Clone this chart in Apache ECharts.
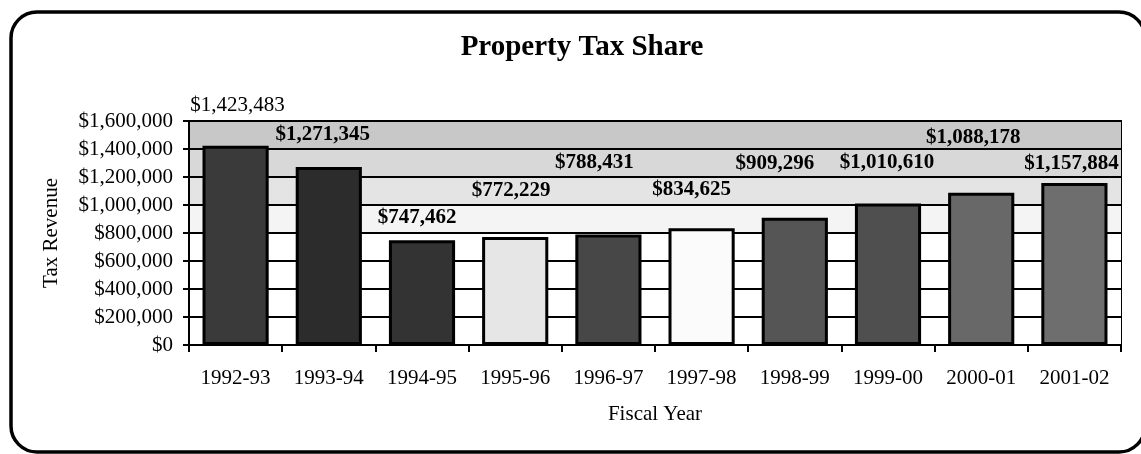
<!DOCTYPE html>
<html>
<head>
<meta charset="utf-8">
<script src="https://cdn.jsdelivr.net/npm/echarts@6/dist/echarts.min.js"></script>
<style>
	html, body { margin: 0; padding: 0; background: #fff; }
	#chart { width: 1141px; height: 454px; }
</style>
</head>
<body>
<div id="chart"></div>
<script>
// data
const fiscalYears = ['1992-93', '1993-94', '1994-95', '1995-96', '1996-97', '1997-98', '1998-99', '1999-00', '2000-01', '2001-02'];
const taxRevenue = [1423483, 1271345, 747462, 772229, 788431, 834625, 909296, 1010610, 1088178, 1157884];
const yTicks = [0, 200000, 400000, 600000, 800000, 1000000, 1200000, 1400000, 1600000];

// look of each bar (grey fills as printed)
const barFills = ['#3a3a3a', '#2c2c2c', '#333333', '#e6e6e6', '#474747', '#fbfbfb', '#555555', '#4f4f4f', '#686868', '#6e6e6e'];
// value labels were dragged around by hand in the original
const labelNudge = [[2, -25], [-6, -17], [-5, -7], [-4, -31], [-14, -57], [-10, -23], [-20, -39], [-1, -25], [-8, -40], [-3, -4]];

const serif = '"Liberation Serif", "DejaVu Serif", serif';

function money(v) {
	return '$' + Math.round(v).toLocaleString('en-US');
}

const chart = echarts.init(document.getElementById('chart'));
const option = {
	animation: false,
	backgroundColor: '#fff',
	graphic: [{
		type: 'rect',
		shape: { x: 11, y: 12, width: 1134, height: 440, r: 26 },
		style: { fill: 'none', stroke: '#000', lineWidth: 3.5 },
		z: 100
	}],
	title: {
		text: 'Property Tax Share',
		left: 577,
		top: 28,
		textAlign: 'center',
		textStyle: {
			fontFamily: serif,
			fontWeight: 'bold',
			fontSize: 29,
			color: '#000'
		}
	},
	grid: {
		left: 189,
		right: 20,
		top: 121,
		bottom: 109,
		show: true,
		borderColor: '#000',
		borderWidth: 2,
		backgroundColor: 'transparent'
	},
	xAxis: {
		type: 'category',
		data: fiscalYears,
		name: 'Fiscal Year',
		nameLocation: 'middle',
		nameGap: 59,
		nameTextStyle: { fontFamily: serif, fontSize: 21, color: '#000' },
		axisLine: { lineStyle: { color: '#000', width: 2 } },
		axisTick: { show: true, length: 7, lineStyle: { color: '#000', width: 2 } },
		axisLabel: { fontFamily: serif, fontSize: 21, color: '#000', margin: 23 },
		splitLine: { show: false }
	},
	yAxis: {
		type: 'value',
		min: yTicks[0],
		max: yTicks[yTicks.length - 1],
		interval: yTicks[1] - yTicks[0],
		name: 'Tax Revenue',
		nameLocation: 'middle',
		nameGap: 127,
		nameTextStyle: { fontFamily: serif, fontSize: 21, color: '#000' },
		axisLine: { show: true, lineStyle: { color: '#000', width: 2 } },
		axisTick: { show: true, length: 6, lineStyle: { color: '#000', width: 2 } },
		axisLabel: {
			fontFamily: serif,
			fontSize: 21,
			color: '#000',
			margin: 16,
			formatter: money
		},
		splitLine: { show: true, lineStyle: { color: '#000', width: 2 } },
		splitArea: {
			show: true,
			areaStyle: {
				color: ['#ffffff', '#ffffff', '#ffffff', '#ffffff', '#f4f4f4', '#e4e4e4', '#d8d8d8', '#c8c8c8']
			}
		}
	},
	series: [{
		type: 'bar',
		barCategoryGap: '29%',
		data: taxRevenue.map(function (v, i) {
			return {
				value: v,
				itemStyle: { color: barFills[i], borderColor: '#000', borderWidth: 3 },
				label: {
					offset: labelNudge[i],
					fontWeight: i === 0 ? 'normal' : 'bold'
				}
			};
		}),
		label: {
			show: true,
			position: 'top',
			distance: 5,
			fontFamily: serif,
			fontSize: 21,
			color: '#000',
			formatter: function (p) { return money(p.value); }
		}
	}]
};
chart.setOption(option);
</script>
</body>
</html>
